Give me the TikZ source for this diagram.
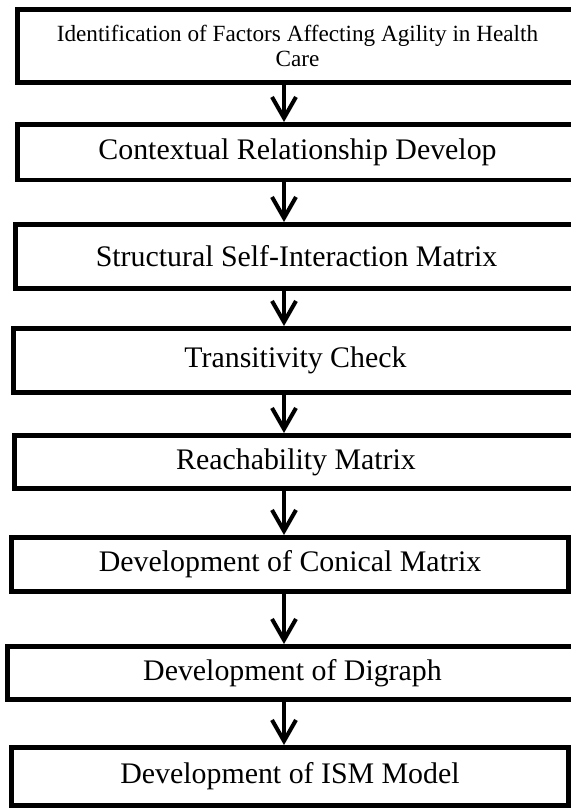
\documentclass[tikz,border=0pt]{standalone}
\usepackage{fontspec}
\setmainfont{Liberation Serif}
\usetikzlibrary{arrows.meta}

\begin{document}
\begin{tikzpicture}[x=0.02cm, y=-0.02cm,
    stepbox/.style={draw, line width=2.8pt, fill=white, inner sep=0pt,
      font=\fontsize{17}{20}\selectfont},
    flow/.style={line width=2.3pt, -{Straight Barb[length=4.2mm, width=4.8mm]}}]
  \useasboundingbox (0,0) rectangle (571,809);
  \fill[white] (0,0) rectangle (571,809);
  \node[stepbox, minimum width=11.2cm, minimum height=1.45cm, align=center,
    font=\fontsize{13.2}{14.7}\selectfont] (s1) at (297.5,46)
    {Identification of Factors Affecting Agility in Health\\Care};
  \node[stepbox, minimum width=11.2cm, minimum height=1.11cm] (s2) at (297.5,152.25) {Contextual Relationship Develop};
  \node[stepbox, minimum width=11.24cm, minimum height=1.28cm] (s3) at (296.5,256.5) {Structural Self-Interaction Matrix};
  \node[stepbox, minimum width=11.28cm, minimum height=1.28cm] (s4) at (295.5,360.5) {Transitivity Check};
  \node[stepbox, minimum width=11.26cm, minimum height=1.06cm] (s5) at (296,462) {Reachability Matrix};
  \node[stepbox, minimum width=11.14cm, minimum height=1.08cm] (s6) at (290,564.5) {Development of Conical Matrix};
  \node[stepbox, minimum width=11.4cm, minimum height=1.06cm] (s7) at (292.5,673) {Development of Digraph};
  \node[stepbox, minimum width=11.14cm, minimum height=1.16cm] (s8) at (290,776.5) {Development of ISM Model};
  % arrows all run down one column
  \coordinate (ax) at (284,0);
  \foreach \a/\b in {s1/s2, s2/s3, s3/s4, s4/s5, s5/s6, s6/s7, s7/s8}
    \draw[flow] (\a.south -| ax) -- (\b.north -| ax);
\end{tikzpicture}
\end{document}
